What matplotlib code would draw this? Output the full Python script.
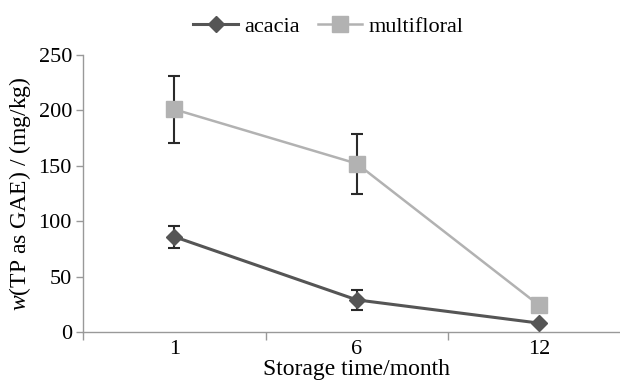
import numpy as np
from matplotlib import pyplot as plt

plt.rcParams['font.family'] = 'Liberation Serif'
plt.rcParams['mathtext.fontset'] = 'custom'
plt.rcParams['mathtext.rm'] = 'Liberation Serif'
plt.rcParams['mathtext.it'] = 'Liberation Serif:italic'

months = ['1', '6', '12']
acacia = [86, 29, 8]
acacia_err = [10, 9, 0]
multifloral = [201, 152, 24]
multifloral_err = [30, 27, 0]

fig = plt.figure(figsize=(6.2, 3.82), dpi=100)
ax = fig.add_axes([83 / 620, 50 / 382, 547.5 / 620, 277 / 382])

x = np.arange(len(months))

ax.errorbar(x, multifloral, yerr=multifloral_err, fmt='none', ecolor='#2a2a2a',
            elinewidth=1.5, capsize=4, capthick=1.5, zorder=2)
ax.errorbar(x, acacia, yerr=acacia_err, fmt='none', ecolor='#2a2a2a',
            elinewidth=1.5, capsize=4, capthick=1.5, zorder=2)
ax.plot(x, multifloral, color='#b2b2b2', lw=1.8, marker='s', ms=11,
        mfc='#b2b2b2', mec='#b2b2b2', label='multifloral', zorder=3)
ax.plot(x, acacia, color='#555555', lw=2.2, marker='D', ms=8,
        mfc='#555555', mec='#555555', label='acacia', zorder=4)

ax.set_xlim(-0.5, 2.5)
ax.set_ylim(0, 250)
ax.set_yticks([0, 50, 100, 150, 200, 250])
ax.set_xticks(x)
ax.set_xticklabels(months)
ax.set_xticks([-0.5, 0.5, 1.5, 2.5], minor=True)
ax.tick_params(axis='x', which='major', length=0, labelsize=16, pad=6)
ax.tick_params(axis='x', which='minor', length=6, color='#999999', width=1)
ax.tick_params(axis='y', length=5, color='#999999', width=1, labelsize=16, pad=3)

for s in ['top', 'right']:
    ax.spines[s].set_visible(False)
for s in ['left', 'bottom']:
    ax.spines[s].set_color('#999999')
    ax.spines[s].set_linewidth(1)

ax.set_xlabel('Storage time/month', fontsize=17, labelpad=0)
ax.set_ylabel(r'$w$(TP as GAE) / (mg/kg)', fontsize=17, labelpad=4)

handles, labels = ax.get_legend_handles_labels()
fig.legend(handles[::-1], labels[::-1], loc='upper center', bbox_to_anchor=(0.53, 1.01),
           ncol=2, frameon=False, fontsize=16, handlelength=2.0, columnspacing=0.8,
           handletextpad=0.3)

fig.savefig('out.png', dpi=100)
